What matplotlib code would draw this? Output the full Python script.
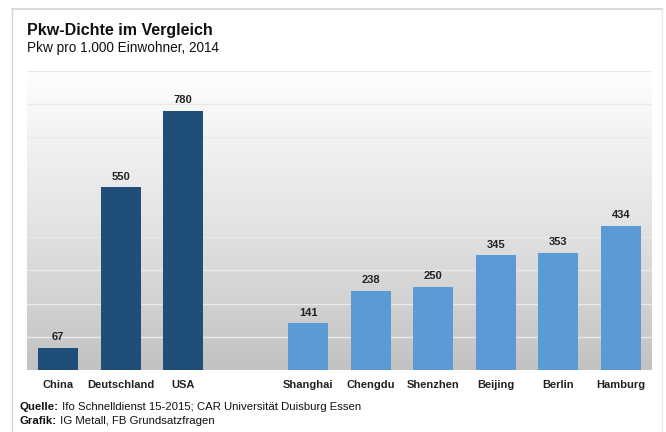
import matplotlib.pyplot as plt
import numpy as np
from matplotlib.lines import Line2D

plt.rcParams['font.family'] = ['Liberation Sans', 'DejaVu Sans']

# Pkw pro 1.000 Einwohner, 2014
countries = ['China', 'Deutschland', 'USA']
country_values = [67, 550, 780]
cities = ['Shanghai', 'Chengdu', 'Shenzhen', 'Beijing', 'Berlin', 'Hamburg']
city_values = [141, 238, 250, 345, 353, 434]

dark_blue = '#1f4e79'
light_blue = '#5b9bd5'

fig = plt.figure(figsize=(6.66, 4.32), dpi=100)
ax = fig.add_axes([27 / 666, 62 / 432, 625 / 666, 299 / 432])

# one empty slot between the countries and the cities
x_countries = np.arange(len(countries))
x_cities = np.arange(len(cities)) + len(countries) + 1
n_slots = len(countries) + 1 + len(cities)

ax.set_xlim(-0.5, n_slots - 0.5)
ax.set_ylim(0, 900)

# grey gradient behind the bars
grad = np.linspace(0, 1, 256).reshape(-1, 1)
ax.imshow(grad, extent=(-0.5, n_slots - 0.5, 0, 900), aspect='auto',
          cmap=plt.matplotlib.colors.LinearSegmentedColormap.from_list(
              'bg', ['#c2c2c2', '#e4e4e4', '#fefefe']),
          origin='lower', zorder=0)

for v in range(100, 1000, 100):
    ax.axhline(v, color='#e9e9e9', lw=1.0, zorder=1)

b1 = ax.bar(x_countries, country_values, width=0.64, color=dark_blue, zorder=2)
b2 = ax.bar(x_cities, city_values, width=0.64, color=light_blue, zorder=2)
for bars in (b1, b2):
    ax.bar_label(bars, padding=4, fontsize=8, fontweight='bold', color='#222222')

ax.set_xticks(list(x_countries) + list(x_cities))
ax.set_xticklabels(countries + cities, fontsize=8, fontweight='bold', color='#222222')
ax.tick_params(axis='x', length=0, pad=7)
ax.set_yticks([])
for s in ax.spines.values():
    s.set_visible(False)

# title block
fig.text(27 / 666, 1 - 35 / 432, 'Pkw-Dichte im Vergleich', fontsize=11.5,
         fontweight='bold', color='#111111', va='baseline')
fig.text(27 / 666, 1 - 52 / 432, 'Pkw pro 1.000 Einwohner, 2014', fontsize=9.8,
         color='#111111', va='baseline')

# source lines
q = fig.text(20 / 666, 1 - 410 / 432, 'Quelle:', fontsize=8.2, fontweight='bold',
             color='#111111', va='baseline')
ax.annotate(' Ifo Schnelldienst 15-2015; CAR Universität Duisburg Essen',
            xy=(1, 0), xycoords=q, va='bottom', fontsize=8.2, color='#111111',
            annotation_clip=False)
g = fig.text(20 / 666, 1 - 424 / 432, 'Grafik:', fontsize=8.2, fontweight='bold',
             color='#111111', va='baseline')
ax.annotate(' IG Metall, FB Grundsatzfragen',
            xy=(1, 0), xycoords=g, va='bottom', fontsize=8.2, color='#111111',
            annotation_clip=False)

# thin frame around the graphic
fc = '#d4d4d4'
fig.add_artist(Line2D([12 / 666, 662 / 666], [1 - 9 / 432, 1 - 9 / 432], color=fc, lw=1.2))
fig.add_artist(Line2D([12 / 666, 12 / 666], [0, 1 - 9 / 432], color=fc, lw=1.0))
fig.add_artist(Line2D([662 / 666, 662 / 666], [0, 1 - 9 / 432], color='#ececec', lw=1.0))

fig.savefig('out.png', dpi=100)
